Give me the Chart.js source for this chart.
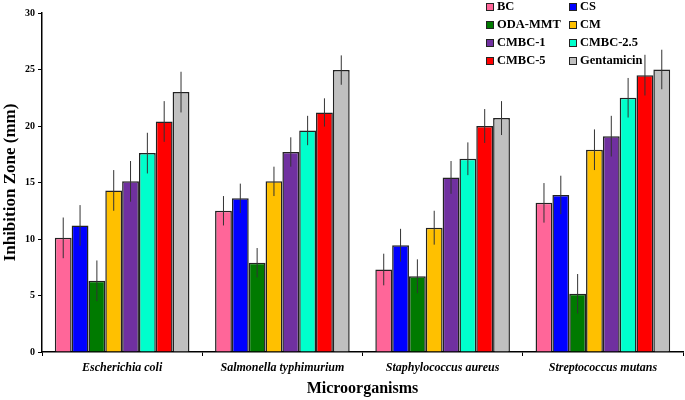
<!DOCTYPE html>
<html>
<head>
<meta charset="utf-8">
<script src="https://cdn.jsdelivr.net/npm/chart.js@4.4.1/dist/chart.umd.min.js"></script>
<style>
  body { margin: 0; background: #fff; }
  #wrap { position: relative; width: 685px; height: 400px; }
  #legend { position: absolute; left: 486px; top: -2px; display: grid; grid-template-columns: 83px 100px; row-gap: 1px;
            font-family: "Liberation Serif", "Times New Roman", serif; font-weight: bold; font-size: 12.5px; }
  .item { display: flex; align-items: center; height: 17px; white-space: nowrap; }
  .box { width: 6px; height: 6px; border: 1px solid #222; margin-right: 3px; }
</style>
</head>
<body>
<div id="wrap">
  <canvas id="chart" width="685" height="400"></canvas>
  <div id="legend"></div>
</div>
<script>
// Data
const organisms = ['Escherichia coli', 'Salmonella typhimurium', 'Staphylococcus aureus', 'Streptococcus mutans'];
const seriesNames = ['BC', 'CS', 'ODA-MMT', 'CM', 'CMBC-1', 'CMBC-2.5', 'CMBC-5', 'Gentamicin'];
const colors = ['#FF6699', '#0000FF', '#007A00', '#FFC000', '#7030A0', '#00FFCC', '#FF0000', '#C0C0C0'];

const bc       = [10.1, 12.5, 7.3, 13.2];
const cs       = [11.2, 13.6, 9.45, 13.9];
const odaMmt   = [6.3, 7.9, 6.7, 5.15];
const cm       = [14.3, 15.1, 11.0, 17.9];
const cmbc1    = [15.1, 17.7, 15.45, 19.1];
const cmbc25   = [17.6, 19.6, 17.1, 22.5];
const cmbc5    = [20.4, 21.2, 20.0, 24.5];
const genta    = [23.0, 24.95, 20.7, 25.0];

const bcErr     = [1.8, 1.3, 1.4, 1.75];
const csErr     = [1.8, 1.3, 1.45, 1.7];
const odaErr    = [1.8, 1.3, 1.5, 1.75];
const cmErr     = [1.8, 1.3, 1.5, 1.8];
const cmbc1Err  = [1.8, 1.3, 1.45, 1.8];
const cmbc25Err = [1.8, 1.3, 1.45, 1.75];
const cmbc5Err  = [1.8, 1.25, 1.5, 1.8];
const gentaErr  = [1.8, 1.3, 1.5, 1.75];

const values = [bc, cs, odaMmt, cm, cmbc1, cmbc25, cmbc5, genta];
const errors = [bcErr, csErr, odaErr, cmErr, cmbc1Err, cmbc25Err, cmbc5Err, gentaErr];

const serif = '"Liberation Serif", "Times New Roman", serif';

// error bars drawn through the y scale
const errorBars = {
  id: 'errorBars',
  afterDatasetsDraw(chart) {
    const ctx = chart.ctx;
    const y = chart.scales.y;
    ctx.save();
    ctx.strokeStyle = '#333';
    ctx.lineWidth = 1;
    chart.data.datasets.forEach((ds, i) => {
      const meta = chart.getDatasetMeta(i);
      meta.data.forEach((bar, j) => {
        const v = ds.data[j], e = ds.errors[j];
        ctx.beginPath();
        ctx.moveTo(bar.x, y.getPixelForValue(v + e));
        ctx.lineTo(bar.x, y.getPixelForValue(v - e));
        ctx.stroke();
      });
    });
    ctx.restore();
  }
};

new Chart(document.getElementById('chart'), {
  type: 'bar',
  data: {
    labels: organisms,
    datasets: seriesNames.map((name, i) => ({
      label: name,
      data: values[i],
      errors: errors[i],
      backgroundColor: colors[i],
      borderColor: '#222',
      borderWidth: 1.5,
      categoryPercentage: 0.84,
      barPercentage: 1
    }))
  },
  options: {
    responsive: false,
    animation: false,
    layout: { padding: { top: 13, right: 2 } },
    plugins: { legend: { display: false }, tooltip: { enabled: false } },
    scales: {
      x: {
        afterFit: s => { s.height = 48; },
        grid: { drawOnChartArea: false, tickLength: 4, color: '#000', offset: true },
        border: { color: '#000', width: 1.5 },
        ticks: { color: '#000', font: { family: serif, size: 12, style: 'italic', weight: 'bold' }, padding: 5 },
        title: { display: true, text: 'Microorganisms', color: '#000', font: { family: serif, size: 16, weight: 'bold' }, padding: { top: 2, bottom: 2 } }
      },
      y: {
        min: 0, max: 30,
        afterFit: s => { s.width = 42; },
        grid: { drawOnChartArea: false, tickLength: 4, color: '#000' },
        border: { color: '#000', width: 1.5 },
        ticks: { stepSize: 5, color: '#000', font: { family: serif, size: 10, weight: 'bold' }, padding: 3 },
        title: { display: true, text: 'Inhibition Zone (mm)', color: '#000', font: { family: serif, size: 17, weight: 'bold' }, padding: 0 }
      }
    }
  },
  plugins: [errorBars]
});

// legend in two columns
const legend = document.getElementById('legend');
seriesNames.forEach((name, i) => {
  const item = document.createElement('div');
  item.className = 'item';
  item.innerHTML = '<span class="box" style="background:' + colors[i] + '"></span>' + name;
  legend.appendChild(item);
});
</script>
</body>
</html>
